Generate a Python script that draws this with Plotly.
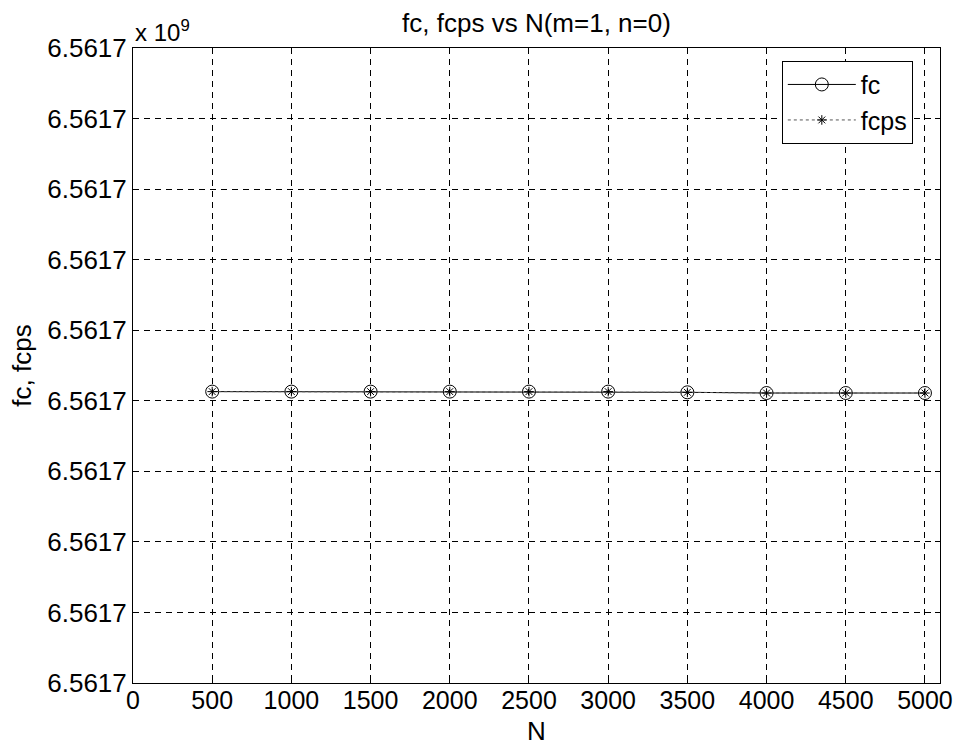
import plotly.graph_objects as go

# Number of samples N
N = [500, 1000, 1500, 2000, 2500, 3000, 3500, 4000, 4500, 5000]

# Cutoff frequency (Hz) from the closed-form solution and from the PS solver
fc = [6561712344.13, 6561712344.13, 6561712344.13, 6561712344.13, 6561712344.13,
      6561712344.13, 6561712344.12, 6561712344.11, 6561712344.11, 6561712344.11]
fcps = [6561712344.13, 6561712344.13, 6561712344.13, 6561712344.13, 6561712344.13,
        6561712344.13, 6561712344.12, 6561712344.11, 6561712344.11, 6561712344.11]

# Axis ticks
x_ticks = [0, 500, 1000, 1500, 2000, 2500, 3000, 3500, 4000, 4500, 5000]
y_ticks = [6561712340 + k for k in range(10)]
y_tick_labels = ["6.5617"] * 10

FONT = "Liberation Sans, Arial, Helvetica, sans-serif"

fig = go.Figure()
fig.add_trace(go.Scatter(
    x=N, y=fc, name="fc", mode="lines+markers",
    line=dict(color="black", width=1),
    marker=dict(symbol="circle-open", size=13, color="black", line=dict(width=1)),
))
fig.add_trace(go.Scatter(
    x=N, y=fcps, name="fcps", mode="lines+markers",
    line=dict(color="#555555", width=1, dash="dot"),
    marker=dict(symbol="asterisk-open", size=8, color="black", line=dict(width=1)),
))

axis_common = dict(
    showline=True, linecolor="black", linewidth=1, mirror="ticks",
    ticks="inside", ticklen=5, tickcolor="black", automargin=False,
    showgrid=True, gridcolor="black", gridwidth=1, griddash="6px,5px",
    zeroline=False,
)

fig.update_layout(
    width=958, height=746,
    margin=dict(l=133, r=18, t=48, b=63),
    paper_bgcolor="white", plot_bgcolor="white",
    font=dict(family=FONT, color="black", size=26),
    title=dict(text="fc, fcps vs N(m=1, n=0)", x=0.56, xanchor="center",
               y=0.969, yanchor="middle", font=dict(size=26)),
    xaxis=dict(range=[0, 5095], tickvals=x_ticks, ticklabelstandoff=-5,
               tickfont=dict(size=25, color="black", family=FONT),
               title=dict(text="N", standoff=8, font=dict(size=26)),
               **axis_common),
    yaxis=dict(range=[y_ticks[0], y_ticks[-1]], tickvals=y_ticks, ticktext=y_tick_labels,
               tickfont=dict(size=26, color="black", family=FONT),
               title=dict(text="fc, fcps", standoff=8, font=dict(size=26)),
               **axis_common),
    legend=dict(x=0.804, xanchor="left", y=0.98, yanchor="top",
                bordercolor="black", borderwidth=1, bgcolor="white",
                font=dict(size=25), tracegroupgap=0, itemwidth=68,
                entrywidth=104, entrywidthmode="pixels"),
    showlegend=True,
    annotations=[dict(text="x 10<sup>9</sup>", xref="paper", yref="paper",
                      x=0, y=1, xanchor="left", yanchor="bottom", showarrow=False,
                      font=dict(size=24), yshift=0)],
)

fig.write_html("out.html")
